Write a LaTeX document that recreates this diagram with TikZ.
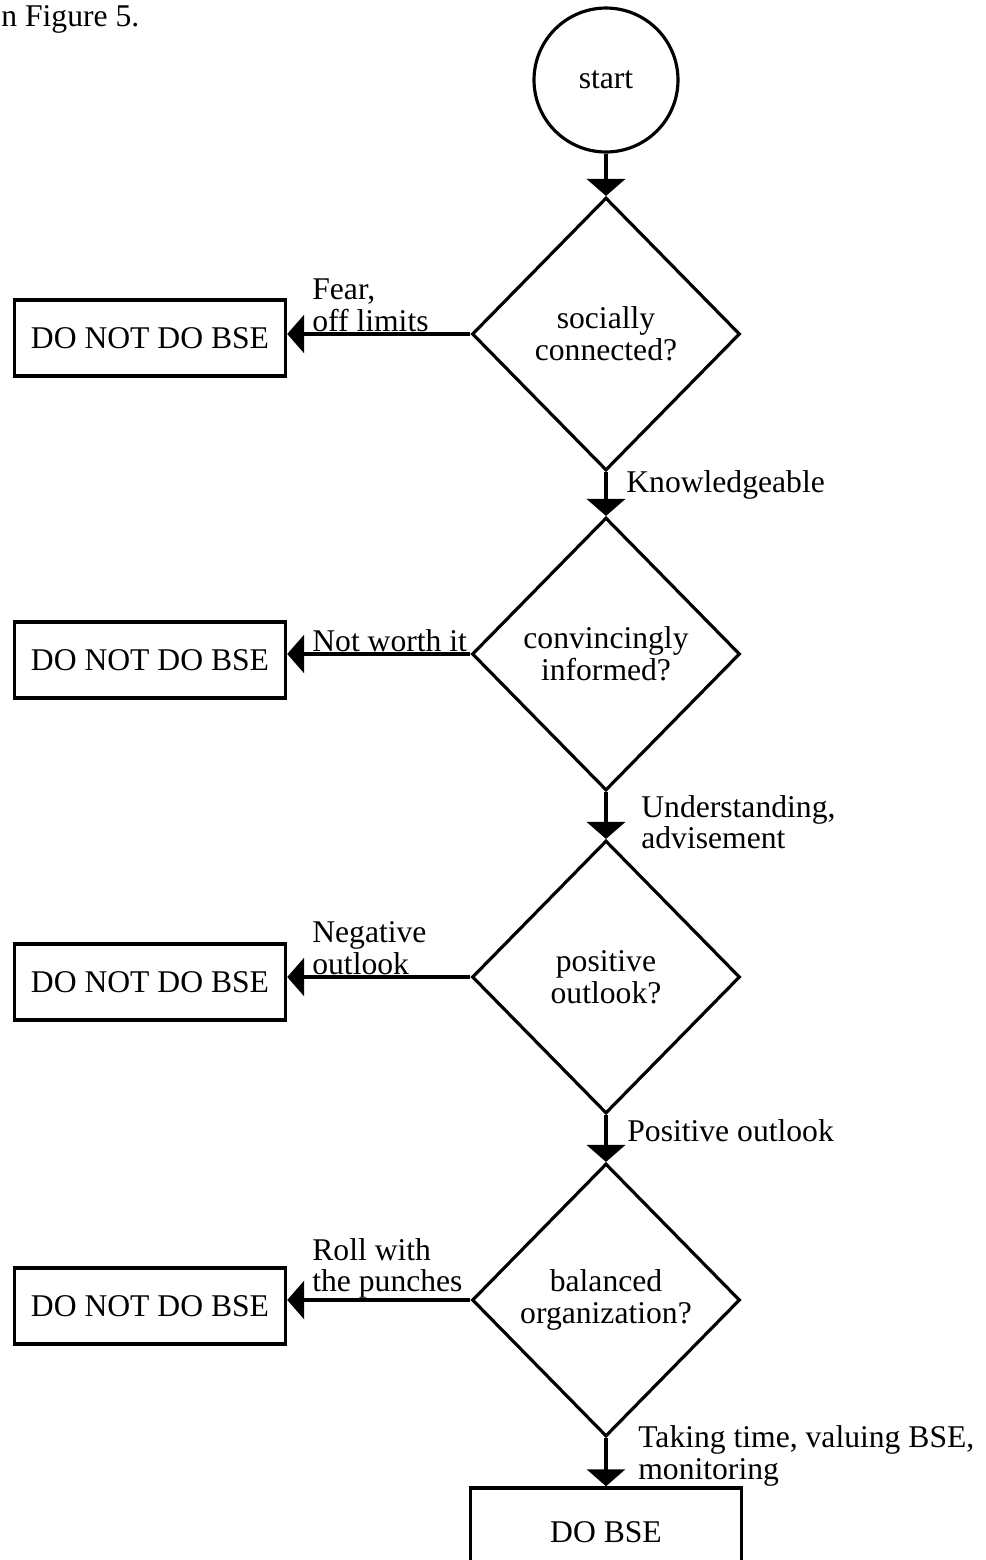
\documentclass[tikz,border=0pt]{standalone}
\usepackage{fontspec}
\setmainfont{Liberation Serif}
\usepackage{tikz}
\usetikzlibrary{shapes.geometric}
\usetikzlibrary{arrows.meta}

\begin{document}
\begin{tikzpicture}[x=0.02cm,y=-0.02cm,
        every node/.style={font=\fontsize{18}{18}\selectfont},
        decision/.style={diamond,draw,line width=1.8pt,minimum width=5.36cm,minimum height=5.46cm,inner sep=0pt,align=center},
        stopbox/.style={rectangle,draw,line width=2pt,minimum width=5.42cm,minimum height=1.52cm},
        flow/.style={-{Triangle[width=0.76cm,length=0.34cm]},line width=2.2pt},
        lbl/.style={align=left,inner sep=0pt}]
        \useasboundingbox (0,0) rectangle (985,1560);

        \node[anchor=west,inner sep=0pt] (fig) at (1,19) {n Figure 5.};

        \node[circle,draw,line width=1.8pt,minimum size=2.88cm] (start) at (606,80) {start};
        \node[decision] (d1) at (606,334) {socially\\connected?};
        \node[decision] (d2) at (606,654) {convincingly\\informed?};
        \node[decision] (d3) at (606,977) {positive\\outlook?};
        \node[decision] (d4) at (606,1300) {balanced\\organization?};
        \node[stopbox,minimum height=1.76cm] (yes) at (606,1532) {DO BSE};

        \node[stopbox] (no1) at (150,338) {DO NOT DO BSE};
        \node[stopbox] (no2) at (150,660) {DO NOT DO BSE};
        \node[stopbox] (no3) at (150,982) {DO NOT DO BSE};
        \node[stopbox] (no4) at (150,1306) {DO NOT DO BSE};

        \draw[flow] (start) -- (d1);
        \draw[flow] (d1) -- (d2);
        \draw[flow] (d2) -- (d3);
        \draw[flow] (d3) -- (d4);
        \draw[flow] (d4) -- (yes);

        \draw[flow] (d1.west) -- (d1.west -| no1.east);
        \draw[flow] (d2.west) -- (d2.west -| no2.east);
        \draw[flow] (d3.west) -- (d3.west -| no3.east);
        \draw[flow] (d4.west) -- (d4.west -| no4.east);

        \node[lbl,anchor=south west] (l1) at (312,332) {Fear,\\off limits};
        \node[lbl,anchor=south west] (l2) at (312,652) {Not worth it};
        \node[lbl,anchor=south west] (l3) at (312,975) {Negative\\outlook};
        \node[lbl,anchor=south west] (l4) at (312,1299) {Roll with\\the punches};

        \node[lbl,anchor=west] (l5) at (626,485) {Knowledgeable};
        \node[lbl,anchor=west] (l6) at (641,822) {Understanding,\\advisement};
        \node[lbl,anchor=west] (l7) at (627,1131) {Positive outlook};
        \node[lbl,anchor=west] (l8) at (638,1456) {Taking time, valuing BSE,\\monitoring};
\end{tikzpicture}
\end{document}
